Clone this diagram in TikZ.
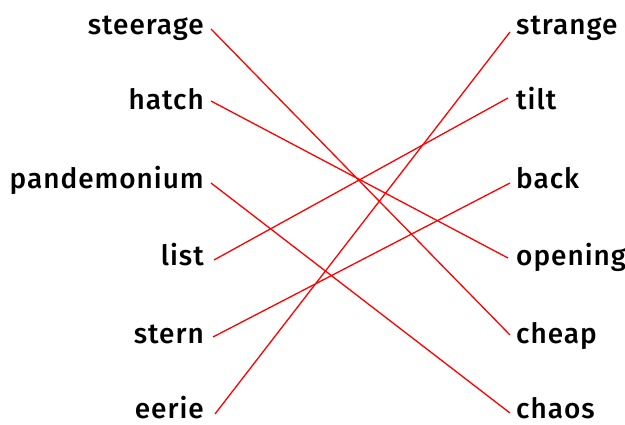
\documentclass[tikz,border=0pt]{standalone}
\usepackage{fontspec}
\setmainfont{Fira Sans Medium}[LetterSpace=3.5]
\begin{document}
\begin{tikzpicture}[x=1pt,y=1pt,
  word/.style={font=\fontsize{28}{30}\selectfont, inner sep=0pt, text=black},
  lword/.style={word, anchor=base east},
  rword/.style={word, anchor=base west},
  link/.style={draw=red, line width=1.3pt}]
\useasboundingbox (0,0) rectangle (625,425);
% left words
\node[lword] (steerage) at (204,425-35) {steerage};
\node[lword] (hatch) at (204,425-110) {hatch};
\node[lword] (pandemonium) at (204,425-189) {pandemonium};
\node[lword] (list) at (204,425-266) {list};
\node[lword] (stern) at (204,425-344) {stern};
\node[lword] (eerie) at (204,425-419) {eerie};
% right words
\node[rword] (strange) at (516,425-35) {strange};
\node[rword] (tilt) at (516,425-110) {tilt};
\node[rword] (back) at (516,425-189) {back};
\node[rword] (opening) at (516,425-266) {opening};
\node[rword] (cheap) at (516,425-344) {cheap};
\node[rword] (chaos) at (516,425-419) {chaos};
% endpoints
\coordinate (l1) at (211,425-29);
\coordinate (l2) at (211,425-101);
\coordinate (l3) at (211,425-183);
\coordinate (l4) at (214,425-260);
\coordinate (l5) at (213,425-337);
\coordinate (l6) at (215,425-414);
\coordinate (r1) at (510,425-32);
\coordinate (r2) at (508,425-98);
\coordinate (r3) at (510,425-183);
\coordinate (r4) at (508,425-258);
\coordinate (r5) at (510,425-335);
\coordinate (r6) at (510,425-413);
\draw[link] (l1) -- (r5);
\draw[link] (l2) -- (r4);
\draw[link] (l3) -- (r6);
\draw[link] (l4) -- (r2);
\draw[link] (l5) -- (r3);
\draw[link] (l6) -- (r1);
\end{tikzpicture}
\end{document}
